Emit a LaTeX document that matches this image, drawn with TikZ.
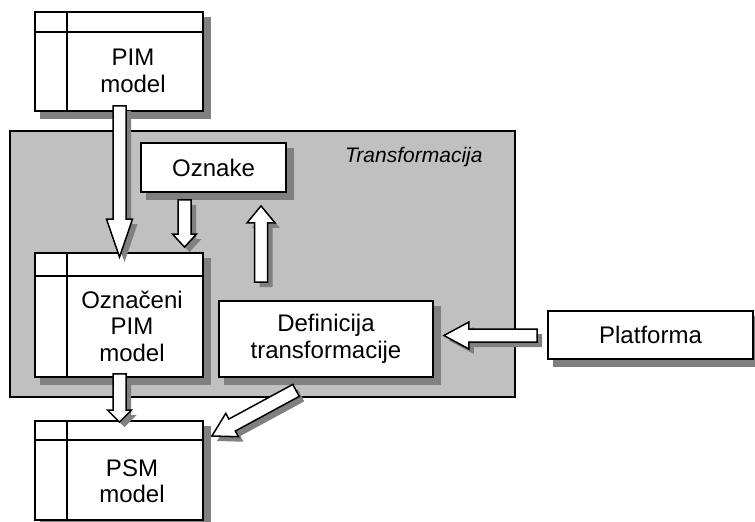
\documentclass[tikz,border=0pt]{standalone}
\usepackage{fontspec}
\setmainfont{Liberation Sans}
\usetikzlibrary{calc}
\pgfdeclarelayer{panellayer}
\pgfdeclarelayer{shadowlayer}
\pgfsetlayers{panellayer,shadowlayer,main}
\definecolor{panelgray}{HTML}{C0C0C0}
\definecolor{shadegray}{HTML}{808080}
\tikzset{
  boxbase/.style={draw=black, line width=1.8pt, fill=white, inner sep=0pt},
  modelbox/.style={boxbase, minimum width=168pt, minimum height=99pt},
  plainbox/.style={boxbase},
  lbl/.style={font=\fontsize{24}{26.5}\selectfont, align=center, inner sep=0pt},
  divline/.style={line width=1.4pt},
  shadowfill/.style={fill=shadegray},
  barrowline/.style={draw=black, line width=1.5pt, fill=white, line join=miter},
}
% box shadow: #1 node name
\newcommand\boxshadow[1]{%
  \begin{pgfonlayer}{shadowlayer}
    \fill[shadowfill] ($(#1.south west)+(6,7)$) rectangle ($(#1.north east)+(7,6)$);
  \end{pgfonlayer}}
% #1 start, #2 tip, #3 head-base coordinate, #4 shaft half width, #5 head half width
\newcommand\bapath[5]{($(#1)!#4!90:(#2)$) -- ($(#3)!#4!90:(#2)$) -- ($(#3)!#5!90:(#2)$) -- (#2) -- ($(#3)!#5!-90:(#2)$) -- ($(#3)!#4!-90:(#2)$) -- ($(#1)!#4!-90:(#2)$) -- cycle}
% #1 start, #2 tip, #3 shaft half width, #4 head half width, #5 head length
\newcommand\blockarrow[5]{%
  \coordinate (ba-h) at ($(#2)!#5!(#1)$);
  \coordinate (ba-ss) at ($(#1)+(5,5)$);
  \coordinate (ba-se) at ($(#2)+(5,5)$);
  \coordinate (ba-sh) at ($(ba-h)+(5,5)$);
  \fill[shadowfill] \bapath{ba-ss}{ba-se}{ba-sh}{#3}{#4};
  \draw[barrowline] \bapath{#1}{#2}{ba-h}{#3}{#4};
}
\begin{document}
\begin{tikzpicture}[x=1pt,y=-1pt]
\useasboundingbox (0,0) rectangle (755,522);
% panel
\begin{pgfonlayer}{panellayer}
\node[draw=black, line width=1.8pt, fill=panelgray, minimum width=505pt, minimum height=266pt, inner sep=0pt] (panel) at (262.5,264) {};
\end{pgfonlayer}
\node[font=\fontsize{21}{24}\selectfont\itshape, anchor=base west, inner sep=0pt] (paneltitle) at (345,162) {Transformacija};
% PIM model
\node[modelbox] (pim) at (119,61.5) {};
\boxshadow{pim}
\draw[divline] ($(pim.north west)+(0,21)$) -- ($(pim.north east)+(0,21)$);
\draw[divline] ($(pim.north west)+(33,0)$) -- ($(pim.south west)+(33,0)$);
\node[lbl] (pimt) at (133,71) {PIM\\model};
% Oznake
\node[plainbox, minimum width=145pt, minimum height=49pt] (oznake) at (213.5,167.5) {};
\boxshadow{oznake}
\node[lbl] (oznaket) at (oznake.center) {Oznake};
% Oznaceni PIM model
\node[modelbox, minimum height=124pt] (ozn) at (119,315) {};
\boxshadow{ozn}
\draw[divline] ($(ozn.north west)+(0,24)$) -- ($(ozn.north east)+(0,24)$);
\draw[divline] ($(ozn.north west)+(33,0)$) -- ($(ozn.south west)+(33,0)$);
\node[lbl] (oznt) at (132,326) {Označeni\\PIM\\model};
% Definicija transformacije
\node[plainbox, minimum width=214pt, minimum height=76pt] (def) at (326,339) {};
\boxshadow{def}
\node[lbl] (deft) at (def.center) {Definicija\\transformacije};
% Platforma
\node[plainbox, minimum width=205pt, minimum height=48pt] (plat) at (650.5,335) {};
\boxshadow{plat}
\node[lbl] (platt) at (plat.center) {Platforma};
% PSM model
\node[modelbox] (psm) at (119,470.5) {};
\boxshadow{psm}
\draw[divline] ($(psm.north west)+(0,20)$) -- ($(psm.north east)+(0,20)$);
\draw[divline] ($(psm.north west)+(33,0)$) -- ($(psm.south west)+(33,0)$);
\node[lbl] (psmt) at (132,481) {PSM\\model};
% arrow end points
\coordinate (a1s) at ($(pim.south)+(0.5,-6)$);
\coordinate (a1e) at ($(ozn.north)+(0.5,5)$);
\coordinate (a2s) at ($(oznake.south)+(-29,7)$);
\coordinate (a2e) at ($(ozn.north)+(65.5,-5)$);
\coordinate (a3s) at ($(def.north)+(-65,-18)$);
\coordinate (a3e) at ($(oznake.south)+(47.5,13)$);
\coordinate (a4s) at ($(ozn.south)+(0.5,-4)$);
\coordinate (a4e) at ($(psm.north)+(0.5,2)$);
\coordinate (a5s) at ($(def.south)+(-30,12.5)$);
\coordinate (a5e) at ($(psm.east)+(8,-34.5)$);
\coordinate (a6s) at ($(plat.west)+(-10,0.5)$);
\coordinate (a6e) at ($(def.east)+(10,-3.5)$);
% arrows
\blockarrow{a1s}{a1e}{6.5pt}{13pt}{38pt}
\blockarrow{a2s}{a2e}{6.5pt}{12pt}{13pt}
\blockarrow{a3s}{a3e}{6.5pt}{14pt}{17pt}
\blockarrow{a4s}{a4e}{6.5pt}{12pt}{12pt}
\blockarrow{a5s}{a5e}{6.8pt}{13.3pt}{23pt}
\blockarrow{a6s}{a6e}{6.5pt}{13.5pt}{25pt}
\end{tikzpicture}
\end{document}
